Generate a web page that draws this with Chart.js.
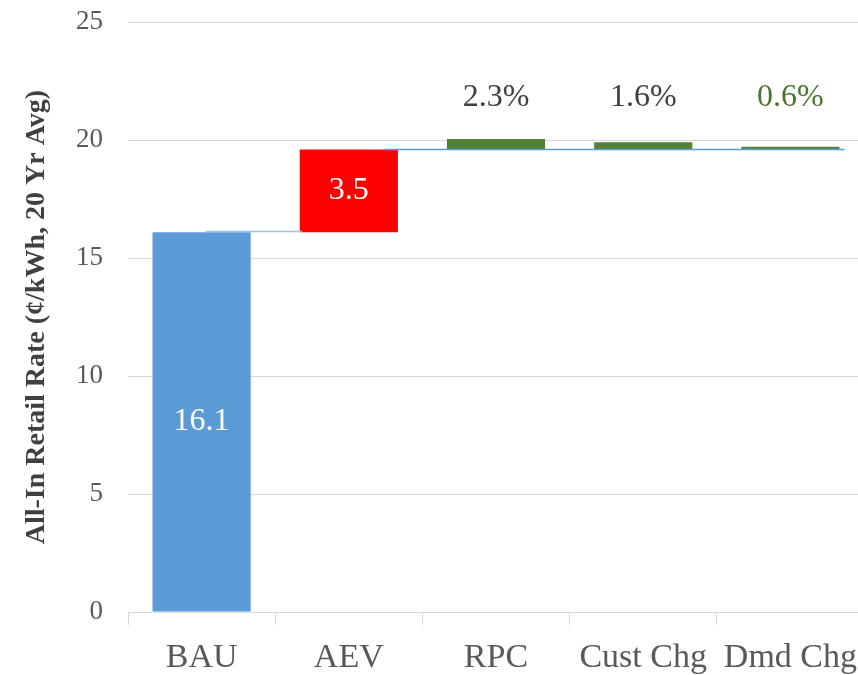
<!DOCTYPE html>
<html>
<head>
<meta charset="utf-8">
<script src="https://cdn.jsdelivr.net/npm/chart.js@4.4.1/dist/chart.umd.min.js"></script>
<style>
  html, body { margin: 0; padding: 0; background: #fff; overflow: hidden; }
  #wrap { width: 870px; height: 675px; position: relative; }
</style>
</head>
<body>
<div id="wrap"><canvas id="rateChart"></canvas></div>
<script>
// waterfall data
const categories = ['BAU', 'AEV', 'RPC', 'Cust Chg', 'Dmd Chg'];
const barStart = [0, 16.1, 19.6, 19.6, 19.6];
const barEnd = [16.1, 19.6, 20.05, 19.91, 19.72];
const barLabels = ['16.1', '3.5', '2.3%', '1.6%', '0.6%'];
const yMin = 0;
const yMax = 25;
const yStep = 5;

// styles
const barColors = ['#5b9bd5', '#ff0000', '#548235', '#548235', '#548235'];
const labelColors = ['#ffffff', '#ffffff', '#404040', '#404040', '#4a7430'];
const SERIF = '"Liberation Serif", "DejaVu Serif", serif';

// connector lines + value labels, drawn from the bar elements
const waterfallExtras = {
  id: 'waterfallExtras',
  afterDatasetsDraw(chart) {
    const ctx = chart.ctx;
    const y = chart.scales.y;
    const bars = chart.getDatasetMeta(0).data;

    ctx.save();
    // BAU -> AEV connector
    ctx.strokeStyle = '#9dc3e6';
    ctx.lineWidth = 1.5;
    ctx.beginPath();
    let py = Math.round(y.getPixelForValue(barEnd[0])) - 0.5;
    ctx.moveTo(bars[0].x + 4, py);
    ctx.lineTo(bars[1].x - bars[1].width / 2 + 2, py);
    ctx.stroke();

    // AEV total carried across
    ctx.strokeStyle = '#5b9bd5';
    ctx.beginPath();
    py = Math.round(y.getPixelForValue(barEnd[1])) - 0.5;
    ctx.moveTo(bars[1].x + bars[1].width * 0.36, py);
    ctx.lineTo(bars[4].x + bars[4].width / 2 + 5, py);
    ctx.stroke();

    // labels
    ctx.textAlign = 'center';
    ctx.textBaseline = 'middle';
    ctx.font = '32px ' + SERIF;
    bars.forEach((bar, i) => {
      ctx.fillStyle = labelColors[i];
      let ly;
      if (i < 2) {
        ly = y.getPixelForValue((barStart[i] + barEnd[i]) / 2);
      } else {
        ly = y.getPixelForValue(21.8);
      }
      ctx.fillText(barLabels[i], bar.x, ly);
    });
    ctx.restore();
  }
};

new Chart(document.getElementById('rateChart'), {
  type: 'bar',
  data: {
    labels: categories,
    datasets: [{
      data: categories.map((c, i) => [barStart[i], barEnd[i]]),
      backgroundColor: barColors,
      borderWidth: 0,
      categoryPercentage: 1,
      barPercentage: 0.667
    }]
  },
  options: {
    responsive: true,
    maintainAspectRatio: false,
    animation: false,
    layout: { padding: { top: 6, right: 0, bottom: 0, left: 0 } },
    plugins: {
      legend: { display: false },
      tooltip: { enabled: false }
    },
    scales: {
      x: {
        grid: {
          display: true,
          drawOnChartArea: false,
          drawTicks: true,
          tickLength: 13,
          color: '#d9d9d9',
          lineWidth: 1
        },
        border: { display: true, color: '#d9d9d9', width: 1 },
        ticks: {
          color: '#595959',
          padding: 13,
          font: { family: SERIF, size: 34 }
        },
        afterFit(scale) { scale.height = 63; }
      },
      y: {
        min: yMin,
        max: yMax,
        ticks: {
          stepSize: yStep,
          color: '#595959',
          padding: 6,
          font: { family: SERIF, size: 27 }
        },
        grid: {
          color: '#d9d9d9',
          lineWidth: 1,
          drawTicks: true,
          tickLength: 19,
          tickColor: 'rgba(0,0,0,0)'
        },
        border: { display: false },
        title: {
          display: true,
          text: 'All-In Retail Rate (¢/kWh, 20 Yr Avg)',
          color: '#404040',
          padding: { top: 20, bottom: 0 },
          font: { family: SERIF, size: 28, weight: 'bold' }
        },
        afterFit(scale) { scale.width = 128; }
      }
    }
  },
  plugins: [waterfallExtras]
});
</script>
</body>
</html>
